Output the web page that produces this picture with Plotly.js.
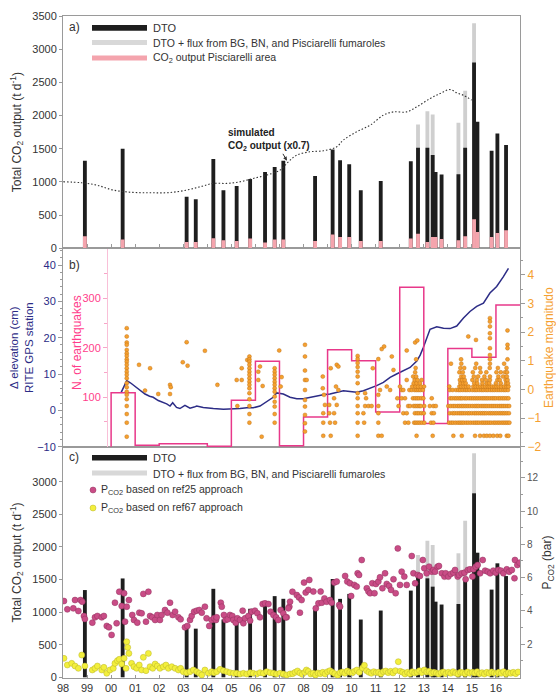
<!DOCTYPE html>
<html><head><meta charset="utf-8">
<script src="https://cdn.plot.ly/plotly-3.0.1.min.js"></script>
<style>html,body{margin:0;padding:0;background:#fff}#chart{width:556px;height:696px}</style>
</head><body><div id="chart"></div>
<script>
// ---------- DATA ----------
const tickYears = [1998,1999,2000,2001,2002,2003,2004,2005,2006,2007,2008,2009,2010,2011,2012,2013,2014,2015,2016];
const tickLabels = ['98','99','00','01','02','03','04','05','06','07','08','09','10','11','12','13','14','15','16'];

// DTO survey dates (decimal year)
const dtoDates = [1998.91,2000.48,2003.14,2003.52,2004.25,2004.67,2005.22,2005.78,2006.40,2006.80,2007.16,2008.48,2009.21,2009.52,2009.90,2010.38,2011.21,2012.46,2012.76,2013.15,2013.37,2013.49,2013.74,2014.44,2014.72,2015.09,2015.23,2015.82,2016.06,2016.42];
// panel a: DTO total CO2 output (t/d)
const dtoA = [1320,1500,775,740,1345,875,940,1045,1150,1225,1320,1090,1490,1325,1265,875,1015,1310,1515,1515,1405,1150,1110,1115,1515,2800,1905,1470,1730,1555];
// panel a: Pisciarelli area CO2 output (t/d)
const pisA = [181,131,95,95,151,121,111,146,86,131,131,110,206,171,171,110,110,146,221,95,171,171,141,121,181,437,246,171,231,271];
// panel c: DTO total CO2 output (t/d)
const dtoC = [1338,1516,762,746,1357,887,862,1051,1142,1245,1204,1039,1508,1203,1279,886,1024,1330,1559,1518,1390,1160,1116,1124,1492,2822,1911,1345,1748,1553];
// DTO + flux from BG, BN and Pisciarelli fumaroles
const greyDates = [2012.76,2013.15,2013.37,2014.44,2014.72,2015.09];
const greyA = [1866,2066,2016,1890,2373,3389];
const greyC = [1876,2095,2029,1902,2402,3436];

// simulated CO2 output (x0.7)
const simYear = [1998.01,1998.78,1999.40,2000.09,2000.92,2001.62,2002.31,2003.00,2003.70,2004.25,2004.81,2005.36,2005.91,2006.47,2007.02,2007.37,2007.72,2008.27,2008.82,2009.38,2009.65,2010.21,2010.77,2011.32,2011.73,2012.29,2012.71,2013.26,2013.68,2014.09,2014.37,2014.64,2014.99];
const simVal = [1002,987,952,877,842,837,837,867,927,978,978,1002,1053,1103,1178,1303,1404,1454,1469,1529,1630,1755,1855,2006,2055,2055,2131,2257,2332,2392,2342,2307,2232];

// RITE GPS elevation (cm)
const gpsYear = [2000.41,2000.52,2000.65,2000.80,2001.00,2001.20,2001.41,2001.60,2001.75,2001.96,2002.15,2002.31,2002.45,2002.56,2002.72,2002.86,2003.07,2003.28,2003.45,2003.56,2003.83,2004.05,2004.25,2004.67,2005.08,2005.36,2005.64,2005.91,2006.19,2006.47,2006.74,2006.88,2007.02,2007.16,2007.44,2007.72,2007.99,2008.27,2008.55,2008.82,2009.10,2009.38,2009.66,2009.93,2010.21,2010.49,2010.77,2011.04,2011.32,2011.60,2011.87,2012.15,2012.43,2012.71,2012.85,2012.98,2013.12,2013.26,2013.54,2013.82,2014.09,2014.37,2014.65,2014.92,2015.20,2015.48,2015.75,2016.03,2016.31,2016.52];
const gpsElev = [4.8,6.5,8.2,7.6,6.6,5.4,4.5,3.9,3.6,2.7,2.2,1.8,1.2,2.1,0.8,0.5,1.4,0.6,0.9,1.2,0.8,0.6,0.5,0.3,0.3,0.5,0.7,0.7,1.2,2.3,3.6,4.8,4.6,4.5,3.6,3.2,3.2,3.6,4.1,4.3,4.5,5.0,5.4,5.2,5.0,5.4,6.1,6.8,7.7,9.1,10.0,10.9,11.8,13.6,15.2,17.3,19.8,22.3,23.0,22.6,22.5,23.2,25.4,27.2,28.6,29.5,32.3,34.1,36.8,39.1];

// yearly number of earthquakes
const eqCountYear = [2000,2000,2001,2002,2003,2004,2005,2006,2007,2008,2009,2010,2011,2012,2013,2014,2015,2016,2017];
const eqCount = [0,109,3,6,6,1,94,173,2,60,196,174,70,323,47,199,181,287,287];

// earthquake magnitudes: scattered events [year, Md]
const eqSparse = [
 [2000.65,2.14],[2000.65,1.85],[2000.65,1.64],[2000.65,1.56],[2000.65,1.38],[2000.65,1.26],[2000.65,1.17],[2000.65,1.05],[2000.65,0.97],[2000.65,0.86],[2000.65,0.74],[2000.65,0.62],[2000.65,0.51],[2000.65,0.39],[2000.65,0.22],[2000.65,0.08],[2000.65,-0.08],[2000.65,-0.19],[2000.65,-0.34],[2000.65,-0.58],[2000.65,-0.86],[2000.65,-1.16],[2000.65,-1.65],
 [2001.16,0.86],[2001.41,-0.04],[2001.62,0.74],[2001.96,-0.16],[2002.45,0.16],[2002.48,0.08],[2002.45,-0.16],[2002.98,0.95],[2003.14,1.65],[2003.18,0.83],[2003.90,1.35],[2004.42,0.16],
 [2005.22,0.33],[2005.43,0.33],[2005.25,-0.58],[2005.43,0.74],[2005.66,1.03],
 [2005.75,1.15],[2005.75,1.05],[2005.75,0.97],[2005.75,0.86],[2005.75,0.74],[2005.75,0.62],[2005.75,0.51],[2005.75,0.39],[2005.75,0.27],[2005.75,0.16],[2005.75,0.04],[2005.75,-0.13],[2005.75,-0.34],[2005.75,-0.58],[2005.75,-0.86],[2005.75,-1.16],
 [2006.12,0.62],[2006.12,0.33],[2006.19,0.80],[2006.30,0.12],[2006.26,-1.65],
 [2006.80,0.74],[2006.80,0.62],[2006.80,0.51],[2006.80,0.39],[2006.80,0.27],[2006.80,0.16],[2006.80,0.04],[2006.80,-0.08],[2006.80,-0.25],[2006.80,-0.43],[2006.80,-0.60],[2006.80,-0.86],[2006.80,-1.16],
 [2006.99,1.36],[2007.09,0.43],[2007.05,0.10],
 [2008.06,1.56],[2008.06,1.15],[2008.06,0.66],[2008.06,0.33],[2008.06,-0.02],[2008.06,-0.37],[2008.06,-0.60],[2008.06,-0.89],[2008.06,-1.18],[2008.06,-1.47],[2008.13,0.33],
 [2008.80,0.45],[2008.80,0.04],[2008.85,-0.19],[2008.89,-0.54],[2008.82,-0.83],[2008.82,-1.16],[2008.82,-1.62],
 [2009.13,0.74],[2009.38,0.86],[2009.45,0.80],[2009.35,0.10],[2009.45,-0.02],[2009.27,-0.31],[2009.38,-0.54],[2009.07,-0.54],[2009.27,-0.83],[2009.07,-0.83],[2009.31,-1.16],[2009.10,-1.16],[2009.13,-1.62],
 [2010.25,1.17],[2010.25,1.06],[2010.25,0.92],[2010.25,0.78],[2010.25,0.62],[2010.25,0.45],[2010.25,0.22],[2010.25,-0.13],[2010.25,-0.31],[2010.25,-0.58],[2010.25,-0.83],[2010.25,-1.16],[2010.25,-1.62],
 [2010.56,-0.13],[2010.60,-0.31],[2010.56,-0.58],[2010.70,-0.58],[2010.83,-0.58],[2010.88,0.74],[2010.49,-0.83],[2010.52,-1.16],
 [2011.11,1.06],[2011.11,-0.19],[2011.11,-0.58],[2011.11,-0.83],[2011.11,-1.16],[2011.11,-1.62],[2011.25,-1.62],[2011.25,1.41],[2011.35,1.50],[2011.18,-0.02],[2011.46,0.10],[2011.60,-0.02],[2011.67,1.15],[2011.74,0.68],
 [2011.90,-0.31],[2011.95,-0.58],[2012.01,0.10],[2012.08,-0.02],[2012.08,-0.31],[2012.15,-0.83],[2012.15,-0.02],[2012.22,-0.31],[2012.22,-1.16],[2012.29,0.33],[2012.29,1.36],[2012.29,-0.83],[2012.35,-0.58],[2012.36,-1.16],[2012.40,-0.02],[2012.43,-0.58],
 [2012.64,1.64],[2012.73,1.71],[2014.85,1.85],[2015.17,1.73],[2015.75,2.49],[2015.75,2.37],[2015.75,2.20],[2015.75,1.96],[2015.75,1.79],[2015.75,1.44],[2015.75,1.20],[2016.48,2.06],[2016.48,1.56],[2016.48,1.44]
];
// dense 2012-2016 events, by magnitude row
const rowMag = [-1.62,-1.16,-0.83,-0.58,-0.31,-0.02,0.10,0.22,0.33,0.45,0.60,0.75,0.90,1.05];
const rowYears = [
 [2012.70,2013.37,2014.23,2014.58,2015.13,2015.34,2015.50,2015.62,2015.75,2015.89,2016.05,2016.18,2016.45,2016.52],
 [2012.60,2012.67,2012.75,2012.83,2012.92,2013.02,2013.30,2013.40,2014.05,2014.14,2014.22,2014.32,2014.42,2014.50,2014.58,2014.66,2014.76,2014.85,2014.95,2015.05,2015.14,2015.22,2015.30,2015.40,2015.48,2015.56,2015.64,2015.72,2015.80,2015.90,2015.98,2016.07,2016.15,2016.24,2016.32,2016.40,2016.48,2016.56],
 [2012.63,2012.72,2012.80,2012.90,2013.00,2013.33,2013.42,2014.08,2014.20,2014.28,2014.38,2014.47,2014.55,2014.63,2014.72,2014.82,2014.90,2015.00,2015.10,2015.18,2015.27,2015.36,2015.44,2015.52,2015.60,2015.70,2015.78,2015.86,2015.95,2016.03,2016.12,2016.20,2016.28,2016.36,2016.45,2016.54],
 [2012.58,2012.66,2012.74,2012.82,2012.88,2013.02,2013.25,2013.40,2013.50,2014.02,2014.12,2014.22,2014.30,2014.40,2014.48,2014.57,2014.65,2014.74,2014.83,2014.92,2015.02,2015.12,2015.20,2015.28,2015.38,2015.46,2015.54,2015.62,2015.71,2015.80,2015.88,2015.96,2016.05,2016.14,2016.22,2016.30,2016.38,2016.47,2016.55],
 [2012.55,2012.64,2012.72,2012.80,2012.90,2012.98,2013.33,2014.10,2014.18,2014.28,2014.36,2014.45,2014.53,2014.60,2014.70,2014.78,2014.88,2014.97,2015.06,2015.15,2015.24,2015.33,2015.42,2015.50,2015.58,2015.66,2015.75,2015.84,2015.92,2016.00,2016.10,2016.18,2016.27,2016.35,2016.44,2016.52],
 [2012.50,2012.62,2012.70,2012.78,2012.86,2012.96,2014.08,2014.20,2014.34,2014.44,2014.52,2014.62,2014.72,2014.80,2014.90,2015.02,2015.12,2015.20,2015.30,2015.40,2015.48,2015.58,2015.66,2015.76,2015.85,2015.94,2016.04,2016.13,2016.22,2016.32,2016.40,2016.50],
 [2012.52,2012.66,2012.76,2012.88,2013.01,2014.06,2014.48,2014.56,2014.66,2014.76,2014.86,2015.06,2015.16,2015.26,2015.36,2015.46,2015.56,2015.66,2015.74,2015.84,2015.94,2016.02,2016.12,2016.22,2016.34,2016.44,2016.52],
 [2012.58,2012.70,2012.84,2014.52,2014.64,2014.74,2015.10,2015.22,2015.44,2015.62,2015.72,2016.00,2016.20,2016.42,2016.50],
 [2012.62,2012.74,2012.91,2014.50,2014.60,2014.70,2015.02,2015.20,2015.42,2015.58,2015.75,2016.06,2016.16,2016.40,2016.48],
 [2012.56,2012.68,2014.56,2014.66,2015.08,2015.26,2015.52,2015.75,2016.10,2016.30,2016.45],
 [2012.64,2014.48,2014.62,2015.04,2015.36,2015.60,2016.02,2016.20,2016.38,2016.46],
 [2012.66,2014.52,2014.68,2015.14,2015.34,2015.74,2016.08,2016.44],
 [2014.13,2014.56,2015.18,2015.75,2016.34],
 [2012.68,2014.55,2015.75,2016.48]
];

// PCO2 (bar) based on ref25 approach [year, bar]
const pco2Ref25 = [
 [1998.04,4.59],[1998.18,4.09],[1998.43,4.15],[1998.50,4.65],[1998.64,3.99],[1998.73,4.65],[1998.80,4.55],[1998.87,3.69],[1998.91,3.51],[1999.22,3.29],[1999.33,3.61],[1999.43,3.69],[1999.61,3.61],[1999.70,3.69],[1999.82,3.09],[1999.91,3.01],[2000.02,2.55],[2000.16,4.49],[2000.23,3.25],[2000.34,5.15],[2000.44,4.29],[2000.54,5.06],[2000.58,3.35],[2000.65,4.25],[2000.74,4.65],[2000.88,3.75],[2000.95,3.45],[2001.09,3.29],[2001.17,3.89],[2001.27,3.85],[2001.34,5.02],[2001.45,3.35],[2001.55,5.15],[2001.62,3.69],[2001.71,3.61],[2001.83,3.45],[2001.92,3.75],[2002.03,3.45],[2002.10,3.75],[2002.24,4.05],[2002.34,3.89],[2002.45,4.49],[2002.56,3.75],[2002.66,3.95],[2002.80,3.61],[2002.89,3.49],[2003.07,3.01],[2003.17,3.09],[2003.28,3.45],[2003.35,3.69],[2003.45,3.95],[2003.56,4.01],[2003.67,4.05],[2003.77,3.89],[2003.90,4.25],[2003.97,3.55],[2004.08,3.09],[2004.18,3.45],[2004.28,3.55],[2004.36,3.45],[2004.39,3.61],[2004.56,4.49],[2004.60,4.25],[2004.69,3.75],[2004.76,3.45],[2004.85,3.49],[2004.94,3.75],[2005.04,3.69],[2005.08,3.45],[2005.18,3.29],[2005.25,3.55],[2005.36,3.45],[2005.47,4.01],[2005.50,3.25],[2005.57,3.55],[2005.71,3.69],[2005.78,3.41],[2005.84,3.95],[2005.98,4.01],[2006.08,3.85],[2006.19,3.61],[2006.30,4.41],[2006.40,4.45],[2006.54,4.41],[2006.63,3.95],[2006.75,3.75],[2006.86,3.61],[2006.95,3.45],[2007.05,4.05],[2007.16,3.85],[2007.30,3.61],[2007.41,4.25],
 [2007.26,3.61],[2007.37,4.15],[2007.44,4.55],[2007.54,5.15],[2007.72,4.95],[2007.81,4.81],[2007.92,4.65],[2007.85,3.89],[2008.02,5.70],[2008.09,5.10],[2008.20,5.26],[2008.24,5.86],[2008.41,5.16],[2008.51,4.15],[2008.62,4.45],[2008.71,5.16],[2008.76,4.49],[2008.87,4.75],[2008.96,4.55],[2009.10,4.65],[2009.17,4.49],[2009.28,5.70],[2009.38,5.76],[2009.48,4.35],[2009.52,4.25],[2009.73,6.10],[2009.82,5.76],[2009.93,5.66],[2009.98,4.89],[2010.11,5.56],[2010.21,5.46],[2010.25,6.26],[2010.31,6.16],[2010.42,7.06],[2010.63,5.36],[2010.70,5.16],[2010.77,5.06],[2010.86,5.66],[2010.95,5.06],[2011.01,5.62],[2011.11,5.76],[2011.18,6.02],[2011.28,5.36],[2011.39,6.26],[2011.46,5.62],[2011.56,5.50],[2011.64,5.26],[2011.74,5.90],[2011.83,5.06],[2011.92,7.76],[2012.01,5.56],[2012.08,6.36],[2012.19,6.06],[2012.29,5.56],[2012.50,7.30],[2012.57,6.26],[2012.64,5.66],[2012.75,6.16],[2012.84,6.10],[2012.96,7.06],[2013.02,6.56],[2013.12,6.26],[2013.22,6.66],[2013.33,6.36],[2013.40,6.46],[2013.47,6.36],[2013.57,6.66],[2013.63,6.70],[2013.75,6.26],[2013.86,6.06],[2013.91,6.26],[2014.02,6.06],[2014.12,6.22],[2014.23,6.30],[2014.30,6.46],[2014.41,6.06],[2014.47,6.16],[2014.58,6.26],[2014.69,6.30],[2014.74,5.90],[2014.83,6.46],[2014.92,6.50],[2015.02,6.06],[2015.06,6.50],[2015.16,6.66],[2015.24,6.76],[2015.34,6.26],[2015.45,7.06],[2015.55,6.42],[2015.66,6.36],[2015.76,6.26],[2015.89,6.42],[2015.99,6.30],[2016.10,6.46],[2016.21,6.42],[2016.31,6.26],[2016.45,6.50],[2016.55,6.36],[2016.66,6.46],[2016.77,5.96],[2016.79,7.06],[2016.89,6.76],[2016.98,6.90]
];
// PCO2 (bar) based on ref67 approach [year, bar]
const pco2Ref67 = [
 [1998.04,1.14],[1998.18,0.74],[1998.36,0.84],[1998.50,0.68],[1998.64,0.54],[1998.78,1.34],[1998.91,0.68],[1999.22,0.44],[1999.33,0.54],[1999.43,0.68],[1999.61,0.44],[1999.70,0.60],[1999.82,0.24],[1999.95,0.44],[2000.09,0.54],[2000.16,0.84],[2000.26,1.00],[2000.34,1.08],[2000.44,0.80],[2000.54,1.14],[2000.62,0.54],[2000.65,2.14],[2000.69,1.80],[2000.74,1.44],[2000.85,0.84],[2000.95,0.64],[2001.06,0.54],[2001.17,0.74],[2001.27,0.44],[2001.34,1.20],[2001.45,0.40],[2001.55,1.44],[2001.62,0.64],[2001.73,0.54],[2001.83,0.80],[2001.92,0.68],[2002.03,0.54],[2002.17,0.64],[2002.28,0.74],[2002.38,0.54],[2002.52,0.64],[2002.66,0.54],[2002.80,0.44],[2002.89,0.54],[2003.00,0.34],[2003.14,0.28],[2003.28,0.34],[2003.42,0.44],[2003.56,0.34],[2003.67,0.24],[2003.77,0.14],[2003.90,0.44],[2004.04,0.24],[2004.18,0.34],[2004.28,0.28],[2004.39,0.34],[2004.53,0.48],[2004.67,0.40],[2004.81,0.34],[2004.94,0.28],[2005.08,0.24],[2005.22,0.24],[2005.36,0.20],[2005.50,0.24],[2005.64,0.20],[2005.78,0.28],[2005.91,0.24],[2006.05,0.20],[2006.19,0.28],[2006.33,0.24],[2006.47,0.34],[2006.61,0.28],[2006.75,0.24],[2006.88,0.20],[2007.02,0.24],[2007.16,0.20],[2007.30,0.14],[2007.44,0.20],
 [2007.55,0.22],[2007.65,0.30],[2007.75,0.38],[2007.85,0.26],[2007.95,0.18],[2008.05,0.30],[2008.12,0.44],[2008.20,0.36],[2008.30,0.20],[2008.40,0.24],[2008.50,0.14],[2008.60,0.26],[2008.70,0.22],[2008.80,0.30],[2008.90,0.20],[2009.00,0.34],[2009.10,0.40],[2009.20,0.30],[2009.30,0.22],[2009.42,0.12],[2009.52,0.28],[2009.62,0.32],[2009.72,0.24],[2009.82,0.38],[2009.92,0.30],[2010.02,0.26],[2010.12,0.36],[2010.22,0.44],[2010.32,0.30],[2010.45,0.56],[2010.53,0.72],[2010.62,0.40],[2010.72,0.30],[2010.82,0.24],[2010.92,0.34],[2011.02,0.28],[2011.12,0.30],[2011.22,0.22],[2011.32,0.34],[2011.42,0.38],[2011.52,0.28],[2011.62,0.36],[2011.72,0.26],[2011.82,0.40],[2011.94,0.94],[2012.02,0.36],[2012.12,0.30],[2012.22,0.20],[2012.32,0.30],[2012.42,0.22],[2012.52,0.34],[2012.62,0.26],[2012.72,0.30],[2012.82,0.40],[2012.92,0.28],[2013.02,0.44],[2013.12,0.32],[2013.22,0.36],[2013.32,0.24],[2013.42,0.30],[2013.52,0.26],[2013.62,0.20],[2013.72,0.28],[2013.82,0.32],[2013.92,0.22],[2014.02,0.30],[2014.12,0.24],[2014.22,0.34],[2014.32,0.26],[2014.42,0.20],[2014.52,0.30],[2014.62,0.28],[2014.72,0.22],[2014.82,0.32],[2014.92,0.24],[2015.02,0.30],[2015.12,0.26],[2015.22,0.34],[2015.32,0.22],[2015.42,0.28],[2015.52,0.20],[2015.62,0.30],[2015.72,0.24],[2015.82,0.32],[2015.92,0.26],[2016.02,0.22],[2016.12,0.30],[2016.22,0.24],[2016.32,0.34],[2016.42,0.20],[2016.52,0.28],[2016.62,0.24],[2016.72,0.30],[2016.82,0.22],[2016.92,0.32]
];

// ---------- BUILD ----------
const FONT = 'Liberation Sans, Arial, sans-serif';
const TXT = '#333';
const AX = '#9a9a9a';
const NAVY = '#2c2c86';
const PINK = '#ff3d8b';
const ORANGE = '#f5a030';
const PX = p => (p - 63) / 457;
const PY = p => (678 - p) / 662;

const eqX = eqSparse.map(d => d[0]);
const eqY = eqSparse.map(d => d[1]);
rowYears.forEach((ys, i) => ys.forEach(yr => { eqX.push(yr); eqY.push(rowMag[i]); }));

const BW = 0.16;
const traces = [
  // panel a
  {type:'bar', x:greyDates, y:greyA, width:BW, xaxis:'x3', yaxis:'y', marker:{color:'#cfcfcf', line:{width:0}}},
  {type:'bar', x:dtoDates, y:dtoA, width:BW, xaxis:'x3', yaxis:'y', marker:{color:'#1e1e1e', line:{width:0}}},
  {type:'bar', x:dtoDates, y:pisA, width:BW, xaxis:'x3', yaxis:'y', marker:{color:'#f4a4ad', line:{width:0}}},
  {type:'scatter', mode:'lines', x:simYear, y:simVal, xaxis:'x3', yaxis:'y', line:{color:'#333', width:1.1, dash:'1.5px,2px', shape:'spline'}},
  // panel b
  {type:'scatter', mode:'lines', x:eqCountYear, y:eqCount, xaxis:'x2', yaxis:'y3', line:{color:'#e8388a', width:1.5, shape:'hv'}},
  {type:'scatter', mode:'markers', x:eqX, y:eqY, xaxis:'x2', yaxis:'y4', marker:{color:ORANGE, size:4, line:{color:'#b86a10', width:0.4}}},
  {type:'scatter', mode:'lines', x:gpsYear, y:gpsElev, xaxis:'x2', yaxis:'y2', line:{color:NAVY, width:1.5}},
  // panel c
  {type:'bar', x:greyDates, y:greyC, width:BW, xaxis:'x', yaxis:'y5', marker:{color:'#cfcfcf', line:{width:0}}},
  {type:'bar', x:dtoDates, y:dtoC, width:BW, xaxis:'x', yaxis:'y5', marker:{color:'#1e1e1e', line:{width:0}}},
  {type:'scatter', mode:'markers', x:pco2Ref25.map(d=>d[0]), y:pco2Ref25.map(d=>d[1]), xaxis:'x', yaxis:'y6', marker:{color:'#c94c86', size:6, line:{color:'#93325f', width:0.5}}},
  {type:'scatter', mode:'markers', x:pco2Ref67.map(d=>d[0]), y:pco2Ref67.map(d=>d[1]), xaxis:'x', yaxis:'y6', marker:{color:'#f3ef3c', size:6, line:{color:'#b9b42a', width:0.5}}}
];

const baseX = {range:[1998,2017], tickvals:tickYears, showgrid:false, zeroline:false, showline:true, linecolor:AX, linewidth:1, mirror:true};
const tickF = (c, s) => ({family:FONT, size:s||11, color:c||TXT});
const co2Title = 'Total CO<sub>2</sub> output (t d<sup>-1</sup>)';

const layout = {
  width:556, height:696,
  margin:{l:63, r:36, t:16, b:18, pad:0},
  paper_bgcolor:'#fff', plot_bgcolor:'rgba(0,0,0,0)',
  showlegend:false, barmode:'overlay',
  font:{family:FONT, color:TXT, size:11},
  xaxis: Object.assign({}, baseX, {anchor:'y5', ticktext:tickLabels, ticks:'inside', ticklen:3, tickcolor:AX, tickfont:tickF(TXT,11)}),
  xaxis2: Object.assign({}, baseX, {anchor:'y2', showticklabels:false, ticks:''}),
  xaxis3: Object.assign({}, baseX, {anchor:'y', showticklabels:false, ticks:'inside', ticklen:4, tickcolor:AX}),
  yaxis: {domain:[0.6491,1], anchor:'x3', range:[0,3500], tickvals:[0,500,1000,1500,2000,2500,3000,3500], ticks:'outside', ticklen:3, tickcolor:AX,
          showline:true, linecolor:AX, mirror:true, showgrid:false, zeroline:false, tickfont:tickF(TXT,11),
          title:{text:co2Title, font:{family:FONT, size:12, color:TXT}, standoff:8}},
  yaxis2: {domain:[0.3489,0.6491], anchor:'x2', range:[-10.09,44.6], tickvals:[-10,0,10,20,30,40], ticks:'outside', ticklen:4, tickcolor:AX,
          minor:{tickvals:[-8,-6,-4,-2,2,4,6,8,12,14,16,18,22,24,26,28,32,34,36,38,42,44], ticks:'outside', ticklen:2, tickcolor:AX},
          showline:true, linecolor:AX, showgrid:false, zeroline:false, tickfont:tickF(NAVY,11),
          title:{text:'Δ elevation (cm)<br>RITE GPS station', font:{family:FONT, size:11.5, color:NAVY}, standoff:1}},
  yaxis3: {overlaying:'y2', anchor:'free', position:PX(107), side:'left', range:[-0.67,401.6], tickvals:[100,200,300], ticks:'outside', ticklen:4, tickcolor:'#f7a6c8',
          minor:{tickvals:[50,150,250,350], ticks:'outside', ticklen:3, tickcolor:'#f7a6c8'},
          showline:true, linecolor:'#f9c0d8', showgrid:false, zeroline:false, tickfont:tickF(PINK,11)},
  yaxis4: {overlaying:'y2', anchor:'x2', side:'right', range:[-2.012,4.93], tickvals:[-2,-1,0,1,2,3,4], ticks:'outside', ticklen:4, tickcolor:AX,
          minor:{tickvals:[-1.5,-0.5,0.5,1.5,2.5,3.5,4.5], ticks:'outside', ticklen:2, tickcolor:AX},
          showline:true, linecolor:AX, showgrid:false, zeroline:false, tickfont:tickF(ORANGE,12),
          title:{text:'Earthquake magnitudo', font:{family:FONT, size:12, color:ORANGE}, standoff:5}},
  yaxis5: {domain:[0,0.3489], anchor:'x', range:[-10.7,3531.7], tickvals:[0,500,1000,1500,2000,2500,3000], ticks:'outside', ticklen:3, tickcolor:AX,
          showline:true, linecolor:AX, showgrid:false, zeroline:false, tickfont:tickF(TXT,11),
          title:{text:co2Title, font:{family:FONT, size:12, color:TXT}, standoff:8}},
  yaxis6: {overlaying:'y5', anchor:'x', side:'right', range:[-0.042,13.86], tickvals:[2,4,6,8,10,12], ticks:'outside', ticklen:4, tickcolor:AX,
          minor:{tickvals:[1,3,5,7,9,11,13], ticks:'outside', ticklen:2, tickcolor:AX},
          showline:true, linecolor:AX, showgrid:false, zeroline:false, tickfont:tickF('#555',10),
          title:{text:'P<sub>CO2</sub> (bar)', font:{family:FONT, size:12, color:TXT}, standoff:5}},
  shapes: [
    {type:'rect', xref:'paper', yref:'paper', x0:PX(92), x1:PX(147), y0:PY(30.7), y1:PY(25), fillcolor:'#1e1e1e', line:{width:0}},
    {type:'rect', xref:'paper', yref:'paper', x0:PX(92), x1:PX(147), y0:PY(45), y1:PY(40), fillcolor:'#d8d8d8', line:{width:0}},
    {type:'rect', xref:'paper', yref:'paper', x0:PX(92), x1:PX(147), y0:PY(60.5), y1:PY(55.5), fillcolor:'#f4a4ad', line:{width:0}},
    {type:'rect', xref:'paper', yref:'paper', x0:PX(92), x1:PX(147), y0:PY(460.5), y1:PY(455), fillcolor:'#1e1e1e', line:{width:0}},
    {type:'rect', xref:'paper', yref:'paper', x0:PX(92), x1:PX(147), y0:PY(475.5), y1:PY(470.5), fillcolor:'#d8d8d8', line:{width:0}},
    {type:'circle', xref:'paper', yref:'paper', x0:PX(90), x1:PX(96), y0:PY(493), y1:PY(487), fillcolor:'#c94c86', line:{color:'#93325f', width:0.5}},
    {type:'circle', xref:'paper', yref:'paper', x0:PX(90), x1:PX(96), y0:PY(511), y1:PY(505), fillcolor:'#f3ef3c', line:{color:'#b9b42a', width:0.5}}
  ],
  annotations: [
    {text:'a)', xref:'paper', yref:'paper', x:PX(67), y:PY(27), xanchor:'left', yanchor:'middle', showarrow:false, font:{size:12, color:TXT}},
    {text:'DTO', xref:'paper', yref:'paper', x:PX(151), y:PY(28), xanchor:'left', yanchor:'middle', showarrow:false, font:{size:11, color:TXT}},
    {text:'DTO + flux from BG, BN, and Pisciarelli fumaroles', xref:'paper', yref:'paper', x:PX(151), y:PY(43), xanchor:'left', yanchor:'middle', showarrow:false, font:{size:10.5, color:TXT}},
    {text:'CO<sub>2</sub> output Pisciarelli area', xref:'paper', yref:'paper', x:PX(151), y:PY(58), xanchor:'left', yanchor:'middle', showarrow:false, font:{size:10.5, color:TXT}},
    {text:'<b>simulated<br>CO<sub>2</sub> output (x0.7)</b>', xref:'paper', yref:'paper', x:PX(226), y:PY(125), xanchor:'left', yanchor:'top', align:'left', showarrow:false, font:{size:10, color:'#222'}},
    {text:' ', xref:'x3', yref:'y', x:2007.31, y:1320, ax:-7, ay:-12, showarrow:true, arrowhead:2, arrowsize:0.8, arrowwidth:1, arrowcolor:'#333'},
    {text:'b)', xref:'paper', yref:'paper', x:PX(67), y:PY(265), xanchor:'left', yanchor:'middle', showarrow:false, font:{size:12, color:TXT}},
    {text:'N. of earthquakes', xref:'paper', yref:'paper', x:PX(77), y:PY(343), xanchor:'center', yanchor:'middle', textangle:-90, showarrow:false, font:{size:12, color:PINK}},
    {text:'c)', xref:'paper', yref:'paper', x:PX(67), y:PY(457), xanchor:'left', yanchor:'middle', showarrow:false, font:{size:12, color:TXT}},
    {text:'DTO', xref:'paper', yref:'paper', x:PX(151), y:PY(458), xanchor:'left', yanchor:'middle', showarrow:false, font:{size:11, color:TXT}},
    {text:'DTO + flux from BG, BN, and Pisciarelli fumaroles', xref:'paper', yref:'paper', x:PX(151), y:PY(473.5), xanchor:'left', yanchor:'middle', showarrow:false, font:{size:10.5, color:TXT}},
    {text:'P<sub>CO2</sub> based on ref25 approach', xref:'paper', yref:'paper', x:PX(99), y:PY(490), xanchor:'left', yanchor:'middle', showarrow:false, font:{size:10.5, color:TXT}},
    {text:'P<sub>CO2</sub> based on ref67 approach', xref:'paper', yref:'paper', x:PX(99), y:PY(508), xanchor:'left', yanchor:'middle', showarrow:false, font:{size:10.5, color:TXT}}
  ]
};

Plotly.newPlot('chart', traces, layout, {staticPlot:true, displayModeBar:false});
</script>
</body></html>
